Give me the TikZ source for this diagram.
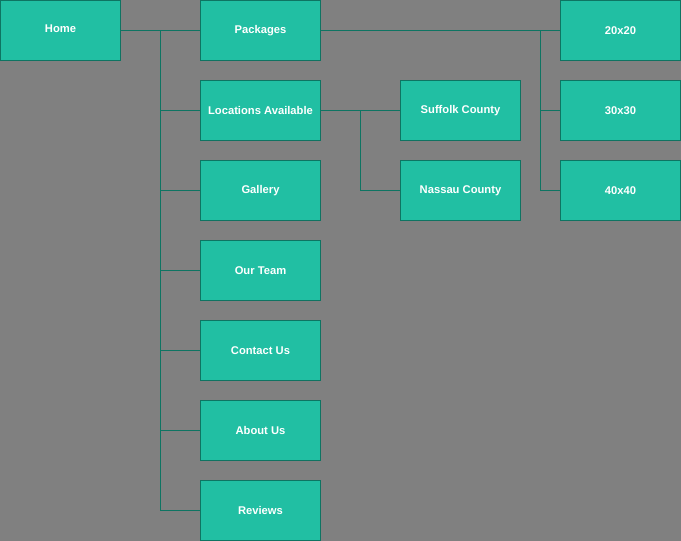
\documentclass[tikz,border=0pt]{standalone}
\usepackage{fontspec}
\setmainfont{Liberation Sans}
\definecolor{pagegray}{HTML}{808080}
\definecolor{boxfill}{HTML}{21BFA3}
\definecolor{boxline}{HTML}{0E7462}
\tikzset{
  page/.style={x=0.75pt,y=-0.75pt},
  sitebox/.style={draw=boxline,fill=boxfill,line width=0.75pt,minimum width=90pt,
    minimum height=45pt,inner sep=0pt,text=white,font=\bfseries\fontsize{8.4}{10}\selectfont},
  link/.style={draw=boxline,line width=0.75pt}
}
\begin{document}
\begin{tikzpicture}[page]
			%sitemap
			\fill [pagegray] (0,0)rectangle(681,541);
			\useasboundingbox (0,0)rectangle(681,541);
			\node [sitebox] (home) at (60.5,30.5) {\raisebox{2.2pt}{Home}};
			\node [sitebox] (packages) at (260.5,30.5) {Packages};
			\foreach \name/\txt [count=\i] in {locations/Locations Available,gallery/Gallery,
				team/Our Team,contact/Contact Us,about/About Us,reviews/Reviews}
				\node [sitebox] (\name) at (260.5,30.5+80*\i) {\txt};
			\node [sitebox] (suffolk) at (460.5,110.5) {Suffolk County};
			\node [sitebox] (nassau) at (460.5,190.5) {Nassau County};
			\node [sitebox] (sizeA) at (620.5,30.5) {20x20};
			\node [sitebox] (sizeB) at (620.5,110.5) {30x30};
			\node [sitebox] (sizeC) at (620.5,190.5) {40x40};
			\coordinate (trunk) at (160.5,30.5);
			\coordinate (locfork) at (360.5,110.5);
			\coordinate (sizefork) at (540.5,30.5);
			\draw [link] (home.east)--(packages.west);
			\foreach \name in {locations,gallery,team,contact,about,reviews}
				\draw [link] (trunk)|-(\name.west);
			\draw [link] (packages.east)--(sizeA.west);
			\draw [link] (sizefork)|-(sizeB.west);
			\draw [link] (sizefork)|-(sizeC.west);
			\draw [link] (locations.east)--(suffolk.west);
			\draw [link] (locfork)|-(nassau.west);
		\end{tikzpicture}
\end{document}
